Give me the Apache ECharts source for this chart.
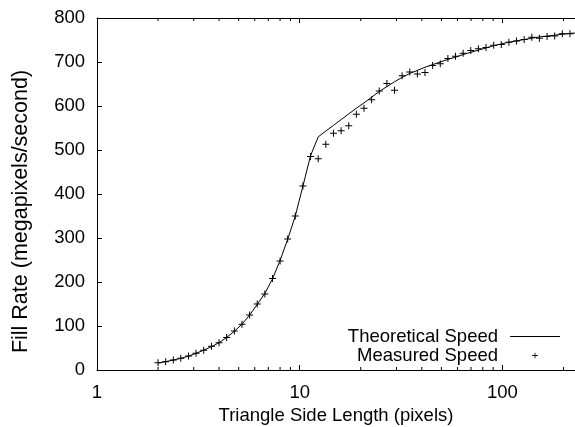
<!DOCTYPE html>
<html>
<head>
<meta charset="utf-8">
<script src="https://cdn.jsdelivr.net/npm/echarts@6/dist/echarts.min.js"></script>
<style>
html,body{margin:0;padding:0;background:#fff;}
#chart{width:575px;height:427px;}
</style>
</head>
<body>
<div id="chart"></div>
<script>
// Triangle side lengths (pixels) of the samples
const sideLength = [2.00, 2.18, 2.38, 2.59, 2.83, 3.08, 3.36, 3.67, 4.00, 4.36, 4.76, 5.19, 5.66, 6.17, 6.73, 7.34, 8.00, 8.72, 9.51, 10.37, 11.31, 12.34, 13.45, 14.67, 16.00, 17.45, 19.03, 20.75, 22.63, 24.68, 26.91, 29.34, 32.00, 34.90, 38.05, 41.50, 45.25, 49.35, 53.82, 58.69, 64.00, 69.79, 76.11, 83.00, 90.51, 98.70, 107.63, 117.38, 128.00, 139.58, 152.22, 166.00, 181.02, 197.40, 215.27];
// Measured fill rate (megapixels/second)
const measuredSpeed = [16.6, 18.9, 22.7, 26.5, 31.8, 37.9, 44.7, 53.8, 62, 74, 88.6, 104, 125, 150, 173, 208, 248, 298, 350, 418, 485, 480, 513, 538, 544, 555, 581, 595, 614, 634, 651, 636, 669, 677, 673, 676, 692, 696, 708, 713, 720, 726, 730, 733, 738, 740, 745, 748, 751, 756, 754, 758, 759, 764, 764];
// Theoretical curve
const theoryX = [2.00, 2.18, 2.38, 2.59, 2.83, 3.08, 3.36, 3.67, 4.00, 4.36, 4.76, 5.19, 5.66, 6.17, 6.73, 7.34, 8.00, 8.72, 9.51, 10.37, 11.31, 12.34, 13.45, 14.67, 16.00, 17.45, 19.03, 20.75, 22.63, 24.68, 26.91, 29.34, 32.00, 34.90, 38.05, 41.50, 45.25, 49.35, 53.82, 58.69, 64.00, 69.79, 76.11, 83.00, 90.51, 98.70, 107.63, 117.38, 128.00, 139.58, 152.22, 166.00, 181.02, 197.40, 215.27, 232];
const theorySpeed = [16, 19, 22.5, 26.5, 31.5, 38, 45, 53, 62, 74, 88, 104, 125, 149, 174, 207, 249, 297, 350, 418, 487, 530, 543, 556, 569, 582, 595, 607, 620, 633, 644, 655, 665, 674, 681, 688, 694, 700, 706, 711, 717, 722, 727, 732, 737, 741, 745, 748, 751, 754, 757, 759, 761, 763, 765, 766];
// Axis settings
const xMin = 1, xMax = 228;
const yMin = 0, yMax = 800, yStep = 100;
const minorTickValues = [2, 3, 4, 5, 6, 7, 8, 9, 20, 30, 40, 50, 60, 70, 80, 90, 200];

const FONT = 'Liberation Sans, Arial, Helvetica, sans-serif';
const plus = 'path://M0,3 L7,3 L7,4 L0,4 Z M3,0 L4,0 L4,7 L3,7 Z';

const chart = echarts.init(document.getElementById('chart'), null, {renderer: 'canvas'});
chart.setOption({
  animation: false,
  backgroundColor: '#fff',
  textStyle: {fontFamily: FONT},
  grid: {left: 97, right: 0, top: 18, bottom: 57, containLabel: false, outerBoundsMode: 'none'},
  legend: {
    orient: 'vertical',
    right: 14,
    top: 327,
    padding: 0,
    align: 'right',
    itemWidth: 50,
    itemHeight: 7,
    itemGap: 0,
    selectedMode: false,
    textStyle: {fontFamily: FONT, fontSize: 18.5, color: '#000', lineHeight: 18, padding: [0, 7, 0, 0]},
    data: [
      {name: 'Theoretical Speed', itemStyle: {opacity: 0}, lineStyle: {width: 1, color: '#000'}},
      {name: 'Measured Speed'}
    ]
  },
  xAxis: [{
    type: 'log',
    logBase: 10,
    min: xMin,
    max: xMax,
    position: 'bottom',
    name: 'Triangle Side Length (pixels)',
    nameLocation: 'middle',
    nameGap: 25,
    nameTextStyle: {fontFamily: FONT, fontSize: 18.5, color: '#000'},
    axisLine: {show: true, lineStyle: {color: '#000', width: 1}},
    axisTick: {show: true, inside: true, length: 5, lineStyle: {color: '#000'}},
    axisLabel: {fontFamily: FONT, fontSize: 18.5, color: '#000', margin: 13, showMaxLabel: false},
    splitLine: {show: false}
  }, {
    type: 'log',
    logBase: 10,
    min: xMin,
    max: xMax,
    position: 'top',
    axisLine: {show: true, lineStyle: {color: '#000', width: 1}},
    axisTick: {show: true, inside: true, length: 5, lineStyle: {color: '#000'}},
    axisLabel: {show: false},
    splitLine: {show: false}
  }],
  yAxis: [{
    type: 'value',
    min: yMin,
    max: yMax,
    interval: yStep,
    name: 'Fill Rate (megapixels/second)',
    nameLocation: 'middle',
    nameGap: 65,
    nameTextStyle: {fontFamily: FONT, fontSize: 21.5, color: '#000', padding: [0, 35, 0, 0]},
    axisLine: {show: true, lineStyle: {color: '#000', width: 1}},
    axisTick: {show: true, inside: true, length: 5, lineStyle: {color: '#000'}},
    axisLabel: {fontFamily: FONT, fontSize: 18.5, color: '#000', margin: 12},
    splitLine: {show: false}
  }],
  series: [{
    name: 'Theoretical Speed',
    type: 'line',
    silent: true,
    symbol: 'none',
    clip: true,
    lineStyle: {color: '#000', width: 1},
    itemStyle: {color: '#000'},
    data: theoryX.map((x, i) => [x, theorySpeed[i]])
  }, {
    name: 'Measured Speed',
    type: 'line',
    silent: true,
    symbol: plus,
    symbolSize: 7,
    showSymbol: true,
    lineStyle: {opacity: 0, color: '#000'},
    itemStyle: {color: '#000'},
    data: sideLength.map((x, i) => [x, measuredSpeed[i]])
  }, {
    name: 'minorTicks',
    type: 'custom',
    silent: true,
    clip: false,
    renderItem: function (params, api) {
      const b = api.coord([api.value(0), yMin]);
      const t = api.coord([api.value(0), yMax]);
      return {
        type: 'group',
        children: [
          {type: 'line', shape: {x1: b[0], y1: b[1], x2: b[0], y2: b[1] - 3}, style: {stroke: '#000', lineWidth: 1}},
          {type: 'line', shape: {x1: t[0], y1: t[1], x2: t[0], y2: t[1] + 3}, style: {stroke: '#000', lineWidth: 1}}
        ]
      };
    },
    data: minorTickValues.map(v => [v, 0])
  }]
});
</script>
</body>
</html>
